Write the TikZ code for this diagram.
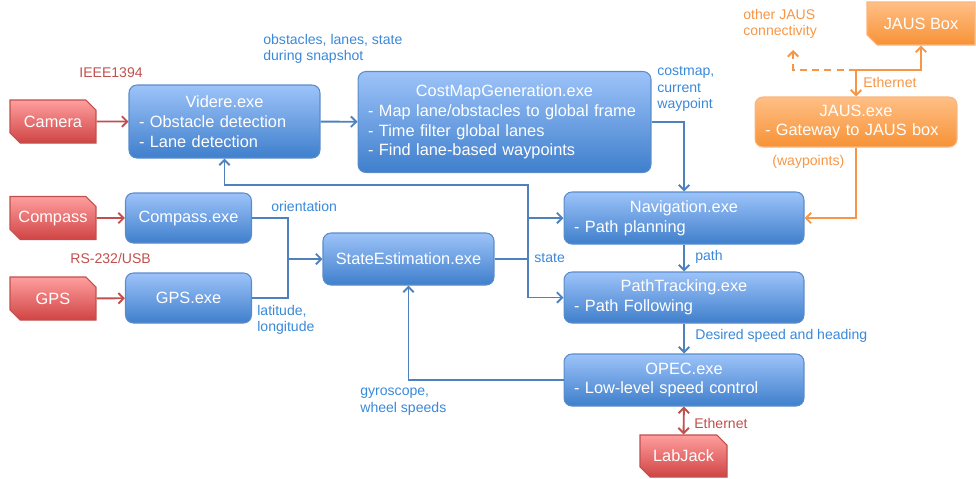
\documentclass[tikz,border=0pt]{standalone}
\usepackage{fontspec}
\setmainfont{Liberation Sans}
\usetikzlibrary{arrows.meta,shapes.misc}
\definecolor{boxtop}{HTML}{9DC3F9}
\definecolor{boxbot}{HTML}{3F7FCC}
\definecolor{boxline}{HTML}{5A8CCB}
\definecolor{linkblue}{HTML}{4F81BD}
\definecolor{textblue}{HTML}{3A89D9}
\definecolor{redtop}{HTML}{FF9E9E}
\definecolor{redbot}{HTML}{D04444}
\definecolor{redline}{HTML}{C0504D}
\definecolor{orgtop}{HTML}{FFBF86}
\definecolor{orgbot}{HTML}{F79236}
\definecolor{orgline}{HTML}{F79646}
\newcommand{\boxtitle}[1]{\makebox[\hsize]{#1}}

\begin{document}
\begin{tikzpicture}[x=0.02cm, y=-0.02cm, >={Straight Barb[length=3pt,width=6pt]},
	bluebox/.style={draw=boxline, line width=0.6pt, rounded corners=4.5pt, top color=boxtop, bottom color=boxbot, text=white, font=\fontsize{9.3}{11.2}\selectfont, inner xsep=0.2cm, align=left},
	orangebox/.style={bluebox, draw=orgline!70, top color=orgtop, bottom color=orgbot},
	redtag/.style={chamfered rectangle, chamfered rectangle corners={north east, south west}, chamfered rectangle xsep=0.1cm, chamfered rectangle ysep=0.1cm, draw=redline, line width=0.6pt, top color=redtop, bottom color=redbot, text=white, font=\fontsize{9.3}{11.2}\selectfont, minimum width=1.72cm, minimum height=0.86cm, inner sep=0pt},
	lbl/.style={inner sep=0pt, anchor=west, align=left, text=textblue, font=\fontsize{8}{9.5}\selectfont},
	link/.style={draw=linkblue, line width=1.1pt},
	redlink/.style={draw=redline, line width=1.1pt},
	orglink/.style={draw=orgline, line width=1.1pt}]
			\useasboundingbox (0,0) rectangle (976,478);

			\node[redtag] (camera) at (53,121.5){Camera};
			\node[redtag] (compass) at (53,218){Compass};
			\node[redtag] (gps) at (53,298.5){GPS};
			\node[redtag, minimum width=1.74cm, minimum height=0.84cm] (labjack) at (683.5,456){LabJack};

			\node[bluebox, text width=3.42cm, minimum height=1.46cm] (videre) at (224.5,121.5){\boxtitle{Videre.exe}\\- Obstacle detection\\- Lane detection};
			\node[bluebox, text width=5.46cm, minimum height=2.02cm] (costmap) at (504.5,122){\boxtitle{CostMapGeneration.exe}\\- Map lane/obstacles to global frame\\- Time filter global lanes\\- Find lane-based waypoints};
			\node[bluebox, minimum width=2.52cm, minimum height=1cm] (compassexe) at (188.5,218){Compass.exe};
			\node[bluebox, minimum width=2.52cm, minimum height=1cm] (gpsexe) at (188.5,298){GPS.exe};
			\node[bluebox, minimum width=3.42cm, minimum height=1.04cm] (stateest) at (408.5,259){StateEstimation.exe};
			\node[bluebox, text width=4.4cm, minimum height=1.04cm] (nav) at (684,218){\boxtitle{Navigation.exe}\\- Path planning};
			\node[bluebox, text width=4.4cm, minimum height=1.02cm] (pathtrack) at (684,297.5){\boxtitle{PathTracking.exe}\\- Path Following};
			\node[bluebox, text width=4.4cm, minimum height=1.04cm] (opec) at (684,380){\boxtitle{OPEC.exe}\\- Low-level speed control};

			\node[orangebox, text width=3.64cm, minimum height=1cm] (jausexe) at (856,122){\boxtitle{JAUS.exe}\\- Gateway to JAUS box};
			\node[redtag, chamfered rectangle corners={south west}, draw=orgline!70, top color=orgtop, bottom color=orgbot, minimum width=2.16cm] (jausbox) at (921,23.5){JAUS Box};

			\node[lbl, text=redline] (ieee) at (79,73){IEEE1394};
			\node[lbl, text=redline] (rs) at (70,258){RS-232/USB};
			\node[lbl] (snap) at (263,49){obstacles, lanes, state\\during snapshot};
			\node[lbl] (cmlbl) at (657,89){costmap,\\current\\waypoint};
			\node[lbl] (orient) at (271,206){orientation};
			\node[lbl] (latlon) at (257,320){latitude,\\longitude};
			\node[lbl] (statelbl) at (534,258){state};
			\node[lbl] (pathlbl) at (695,257){path};
			\node[lbl] (desired) at (695,336){Desired speed and heading};
			\node[lbl] (gyro) at (360,402){gyroscope,\\wheel speeds};
			\node[lbl, text=redline] (eth1) at (694,423){Ethernet};
			\node[lbl, text=orgline] (wp) at (772,162){(waypoints)};
			\node[lbl, text=orgline] (eth2) at (863,82){Ethernet};
			\node[lbl, text=orgline] (otherlbl) at (743,24){other JAUS\\connectivity};

			\coordinate (merge) at (288,259);
			\coordinate (split) at (528,259);
			\coordinate (fork) at (528,185);
			\coordinate (eth) at (856,70);
			\coordinate (otherend) at (793,50);

			\draw[redlink, ->] (camera) -- (videre);
			\draw[redlink, ->] (compass) -- (compassexe);
			\draw[redlink, ->] (gps) -- (gpsexe);
			\draw[redlink, <->] (opec) -- (labjack);

			\draw[link, ->] (videre) -- (costmap);
			\draw[link, ->] (costmap) -| (nav);
			\draw[link] (compassexe) -| (merge) |- (gpsexe);
			\draw[link, ->] (merge) -- (stateest);
			\draw[link] (stateest) -- (split);
			\draw[link, <->] (videre) |- (fork) |- (pathtrack);
			\draw[link, ->] (split |- nav) -- (nav);
			\draw[link, ->] (nav) -- (pathtrack);
			\draw[link, ->] (pathtrack) -- (opec);
			\draw[link, ->] (opec) -| (stateest);

			\draw[orglink, ->] (jausexe) |- (nav);
			\draw[orglink, <->] (jausexe) -- (eth) -| (jausbox);
			\draw[orglink, dash pattern=on 4pt off 3pt, ->] (eth) -| (otherend);
			\end{tikzpicture}
\end{document}
